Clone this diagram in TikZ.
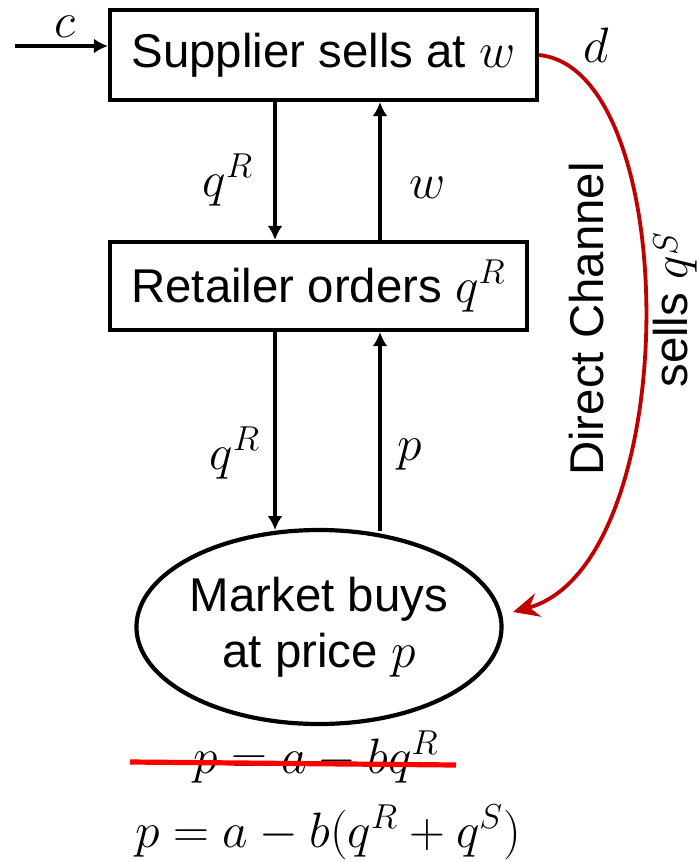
\documentclass[tikz,border=0pt]{standalone}
\usepackage{fontspec}
\setmainfont{Liberation Sans}
\usetikzlibrary{arrows.meta,shapes.geometric}
\definecolor{chanred}{RGB}{192,0,0}
\definecolor{strikered}{RGB}{255,0,0}
\begin{document}
\begin{tikzpicture}[x=0.5pt,y=-0.5pt,
  every node/.style={font=\fontsize{23.7}{28}\selectfont},
  box/.style={draw,line width=2.1pt,inner sep=0pt,align=center},
  flow/.style={line width=2pt,-{Latex[length=7pt,width=7.5pt]}},
  chan/.style={chanred,line width=1.9pt,-{Stealth[length=13pt,width=12pt,inset=4.5pt]}},
  lbl/.style={inner sep=0pt},
  eqn/.style={inner sep=0pt,anchor=base,font=\fontsize{24.5}{29}\selectfont}]
\useasboundingbox[fill=white] (0,0) rectangle (699,862);

% agents
\node[box,minimum width=213.5pt,minimum height=45pt] (sup) at (323.5,55) {Supplier sells at $w$};
\node[box,minimum width=208.5pt,minimum height=44pt] (ret) at (318.5,286) {Retailer orders $q^R$};
\node[box,ellipse,minimum width=178pt,minimum height=97pt] (mkt) at (319,627) {Market buys\\at price $p$};

% cost input
\coordinate (cin) at (15,46);
\draw[flow] (cin) -- (cin -| sup.west);
\node[lbl,anchor=base] at (65,37) {$c$};

% supplier <-> retailer
\draw[flow] (sup.south -| 275,0) -- (ret.north -| 275,0);
\draw[flow] (ret.north -| 380,0) -- (sup.south -| 380,0);
\node[lbl] at (228,180) {$q^R$};
\node[lbl] at (428,188) {$w$};

% retailer <-> market
\draw[flow] (ret.south -| 275,0) -- (275,530);
\draw[flow] (380,531) -- (ret.south -| 380,0);
\node[lbl] at (235,453) {$q^R$};
\node[lbl] at (410,455) {$p$};

% direct channel
\coordinate (dend) at (513,612);
\draw[chan] (sup.east) .. controls (684,70) and (684,565) .. (dend);
\node[lbl] at (596,45) {$d$};
\node[lbl,rotate=90,anchor=base] at (603,319) {Direct Channel};
\node[lbl,rotate=90,anchor=base] at (687,310) {sells $q$\kern0.5pt\raisebox{5pt}{$\scriptstyle S$}};

% demand functions
\node[eqn] (old) at (316,773) {$p = a - bq^R$};
\coordinate (s1) at (130,762);
\coordinate (s2) at (456,765);
\draw[strikered,line width=2.6pt] (s1) -- (s2);
\node[eqn] (new) at (328,847) {$p = a - b(q^R + q^S)$};
\end{tikzpicture}
\end{document}
